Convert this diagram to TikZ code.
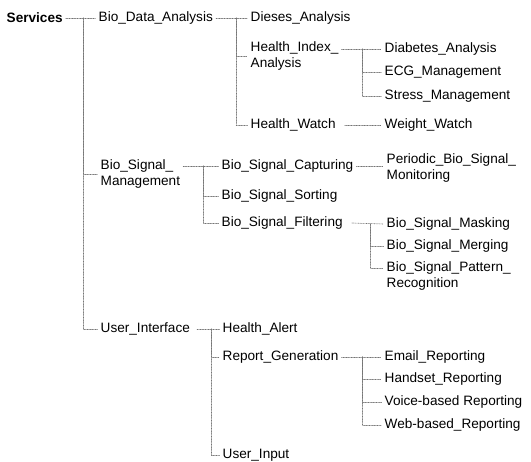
\documentclass[tikz,border=0pt]{standalone}
\usepackage{fontspec}
\setmainfont{Liberation Sans}
\usetikzlibrary{calc}
\tikzset{
	item/.style={anchor=west, inner xsep=3pt, inner ysep=1.5pt, align=left, font=\fontsize{13.6}{16}\selectfont},
	root/.style={item, font=\fontsize{13.6}{16}\selectfont\bfseries},
	link/.style={black!55, densely dotted, line width=0.6pt},
}

\begin{document}
\begin{tikzpicture}[x=1pt, y=-1pt, line cap=round, line join=round]
			\useasboundingbox (0,0) rectangle (531,462);
			
			% Root and first level
			\node[root] (svc) at (3.5,18) {Services};
			\node[item] (bda) at (95.5,18) {Bio\_Data\_Analysis};
			\node[item] (bsm) at (97.5,174) {Bio\_Signal\_\\Management};
			\node[item] (ui) at (97.5,329) {User\_Interface};
			
			% Bio data branch
			\node[item] (dis) at (247.5,18) {Dieses\_Analysis};
			\node[item] (hia) at (247.5,56) {Health\_Index\_\\Analysis};
			\node[item] (hw) at (247.5,125) {Health\_Watch};
			\node[item] (dia) at (381.5,49) {Diabetes\_Analysis};
			\node[item] (ecg) at (381.5,72) {ECG\_Management};
			\node[item] (str) at (381.5,96) {Stress\_Management};
			\node[item] (ww) at (381.5,125) {Weight\_Watch};
			
			% Bio signal branch
			\node[item] (cap) at (218.5,166) {Bio\_Signal\_Capturing};
			\node[item] (srt) at (218.5,196) {Bio\_Signal\_Sorting};
			\node[item] (flt) at (218.5,223) {Bio\_Signal\_Filtering};
			\node[item] (pbm) at (383.5,168) {Periodic\_Bio\_Signal\_\\Monitoring};
			\node[item] (msk) at (383.5,224) {Bio\_Signal\_Masking};
			\node[item] (mrg) at (383.5,246) {Bio\_Signal\_Merging};
			\node[item] (pat) at (383.5,276) {Bio\_Signal\_Pattern\_\\Recognition};
			
			% User interface branch
			\node[item] (ha) at (219.5,329) {Health\_Alert};
			\node[item] (rg) at (219.5,357) {Report\_Generation};
			\node[item] (uin) at (219.5,455) {User\_Input};
			\node[item] (eml) at (381.5,357) {Email\_Reporting};
			\node[item] (hnd) at (381.5,379) {Handset\_Reporting};
			\node[item] (vce) at (381.5,402) {Voice-based Reporting};
			\node[item] (web) at (381.5,425) {Web-based\_Reporting};
			
			% Trunks of the dotted brackets
			\coordinate (t1) at (83,18);
			\coordinate (t2) at (236,18);
			\coordinate (t3) at (362,49);
			\coordinate (t4) at (203,166);
			\coordinate (t5) at (370,224);
			\coordinate (t6) at (211,329);
			\coordinate (t7) at (362,357);
			
			% Connectors
			\draw[link] (svc.east) -- (bda.west);
			\foreach \c in {bsm,ui} \draw[link] (t1) |- (\c.west);
			
			\draw[link] (bda.east) -- (dis.west);
			\foreach \c in {hia,hw} \draw[link] (t2) |- (\c.west);
			
			\draw[link] ([yshift=7pt]hia.east) -- (dia.west);
			\foreach \c in {ecg,str} \draw[link] (t3) |- (\c.west);
			\draw[link] ([xshift=6pt]hw.east) -- (ww.west);
			
			\draw[link] ([yshift=8pt]bsm.east) -- (cap.west);
			\foreach \c in {srt,flt} \draw[link] (t4) |- (\c.west);
			\draw[link] (cap.east) -- (cap.east -| pbm.west);
			
			\draw[link] ([xshift=6pt]flt.east) -- (msk.west);
			\draw[link] (t5) |- (mrg.west);
			\draw[link] (t5) |- ([yshift=8pt]pat.west);
			
			\draw[link] ([xshift=4pt]ui.east) -- (ha.west);
			\foreach \c in {rg,uin} \draw[link] (t6) |- (\c.west);
			
			\draw[link] (rg.east) -- (eml.west);
			\foreach \c in {hnd,vce,web} \draw[link] (t7) |- (\c.west);
			
		\end{tikzpicture}
\end{document}
